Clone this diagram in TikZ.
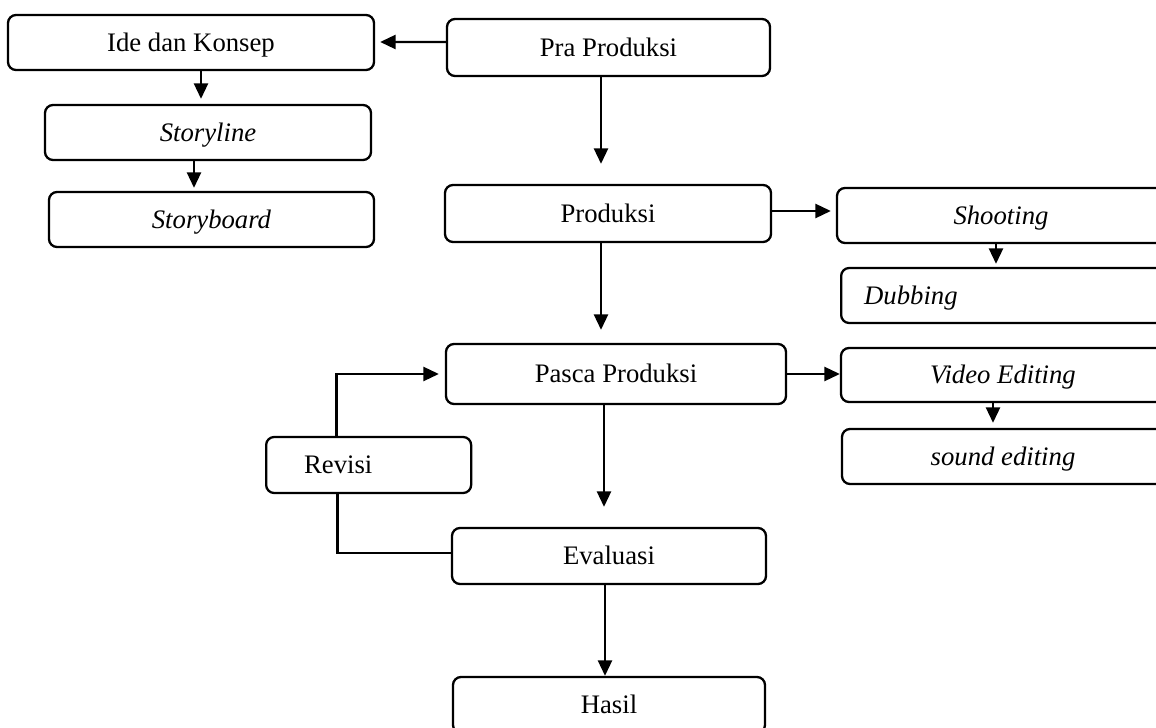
\documentclass[tikz,border=0pt]{standalone}
\usepackage{fontspec}
\setmainfont{Liberation Serif}
\usetikzlibrary{arrows.meta}

\tikzstyle{block} = [draw, rectangle, rounded corners=0.16cm, line width=1.3pt,
    minimum height=1.1cm, inner sep=0pt, text height=9.8pt, text depth=0pt,
    font=\fontsize{15.2}{18}\selectfont]
\tikzstyle{line} = [draw, line width=1.4pt]

\begin{document}
\begin{tikzpicture}[>={Triangle[length=0.31cm,width=0.28cm]}]
    \useasboundingbox (0,0) rectangle (23.12,-14.56);
    \clip (0,0) rectangle (23.12,-14.56);
    % We start by placing the blocks
    \node [block, minimum width=7.32cm] (ide) at (3.82,-0.85) {Ide dan Konsep};
    \node [block, minimum width=6.46cm, minimum height=1.14cm] (pra) at (12.17,-0.95) {Pra Produksi};
    \node [block, minimum width=6.52cm] (storyline) at (4.16,-2.65) {\textit{Storyline}};
    \node [block, minimum width=6.50cm] (storyboard) at (4.23,-4.39) {\textit{Storyboard}};
    \node [block, minimum width=6.52cm, minimum height=1.14cm] (produksi) at (12.16,-4.27) {Produksi};
    \node [block, minimum width=6.56cm] (shooting) at (20.02,-4.31) {\textit{Shooting}};
    \node [block, anchor=west, inner xsep=0.46cm, text width=5.88cm, align=left] (dubbing) at (16.80,-5.91) {\textit{Dubbing}};
    \node [block, minimum width=6.80cm, minimum height=1.20cm] (pasca) at (12.32,-7.48) {Pasca Produksi};
    \node [block, minimum width=6.48cm, minimum height=1.08cm] (video) at (20.06,-7.50) {\textit{Video Editing}};
    \node [block, minimum width=6.44cm] (sound) at (20.06,-9.13) {\textit{sound editing}};
    \node [block, anchor=west, inner xsep=0.76cm, text width=2.58cm, align=left, minimum height=1.12cm] (revisi) at (5.30,-9.30) {Revisi};
    \node [block, minimum width=6.28cm, minimum height=1.12cm] (evaluasi) at (12.18,-11.12) {Evaluasi};
    \node [block, minimum width=6.24cm, minimum height=1.12cm] (hasil) at (12.18,-14.10) {Hasil};

    % then the connectors
    \draw [line,->,shorten >=0.1cm] ([yshift=0.11cm]pra.west) -- ([yshift=0.01cm]ide.east);
    \draw [line,->,shorten >=0.1cm] ([xshift=0.2cm]ide.south) -- ([xshift=0.2cm]ide.south |- storyline.north);
    \draw [line,->,shorten >=0.06cm] ([xshift=-0.28cm]storyline.south) -- ([xshift=-0.28cm]storyline.south |- storyboard.north);
    \draw [line,->,shorten >=0.4cm] ([xshift=-0.15cm]pra.south) -- ([xshift=-0.15cm]pra.south |- produksi.north);
    \draw [line,->,shorten >=0.1cm] ([yshift=0.05cm]produksi.east) -- ([yshift=0.05cm]produksi.east -| shooting.west);
    \draw [line,->,shorten >=0.06cm] ([xshift=-0.1cm]shooting.south) -- ([xshift=-0.1cm]shooting.south |- dubbing.north);
    \draw [line,->,shorten >=0.26cm] ([xshift=-0.14cm]produksi.south) -- ([xshift=-0.14cm]produksi.south |- pasca.north);
    \draw [line,->] (pasca.east) -- (pasca.east -| video.west);
    \draw [line,->,shorten >=0.1cm] ([xshift=-0.2cm]video.south) -- ([xshift=-0.2cm]video.south |- sound.north);
    \draw [line,->,shorten >=0.4cm] ([xshift=-0.1cm]evaluasi.north |- pasca.south) -- ([xshift=-0.1cm]evaluasi.north);
    \draw [line,->] ([xshift=-0.08cm]evaluasi.south) -- ([xshift=-0.08cm]hasil.north);
    \draw [line,->,shorten >=0.12cm] ([xshift=-0.64cm]revisi.north) |- (pasca.west);
    \draw [line] ([yshift=0.06cm]evaluasi.west) -| ([xshift=-0.62cm]revisi.south);
\end{tikzpicture}
\end{document}
